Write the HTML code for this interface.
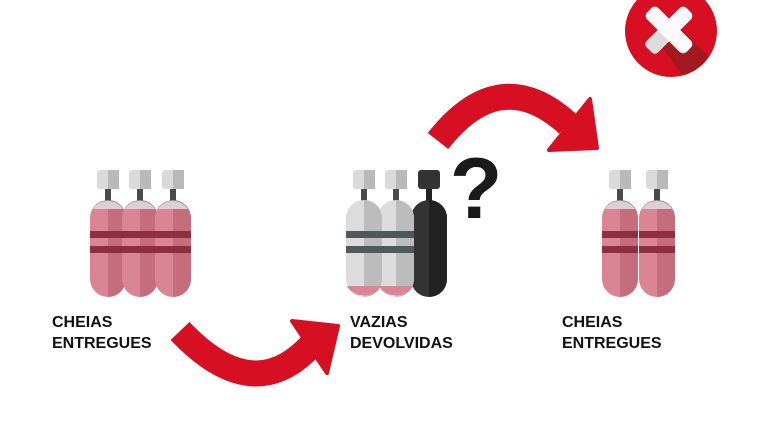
<!DOCTYPE html>
<html><head><meta charset="utf-8"><style>
html,body{margin:0;padding:0;background:#fff;}
.t{font-family:"Liberation Sans",sans-serif;font-weight:bold;font-size:16px;fill:#111;}
</style></head><body>
<svg width="768" height="432" viewBox="0 0 768 432" xmlns="http://www.w3.org/2000/svg">
<defs>
<clipPath id="cc"><circle cx="671" cy="31" r="46"/></clipPath>
<g id="pink">
  <rect x="-11" y="0" width="22" height="19" rx="3" fill="#dadada"/>
  <rect x="0" y="0" width="11" height="19" fill="#b9b9b9"/>
  <rect x="-3" y="19" width="6" height="12" fill="#4a4a4a"/>
  <rect x="-18" y="30" width="36" height="97" rx="18" fill="#d98593"/>
  <path d="M0,30 A18,18 0 0 1 18,48 V109 A18,18 0 0 1 0,127 Z" fill="#c56d7c"/>
  <path d="M-15,39 A18,18 0 0 1 15,39 Z" fill="#d4d4d4"/>
  <rect x="-18" y="61" width="36" height="7" fill="#8e2f40"/>
  <rect x="-18" y="76" width="36" height="7" fill="#8e2f40"/>
</g>
<g id="grey">
  <rect x="-11" y="0" width="22" height="19" rx="3" fill="#dadada"/>
  <rect x="0" y="0" width="11" height="19" fill="#b9b9b9"/>
  <rect x="-3" y="19" width="6" height="12" fill="#4a4a4a"/>
  <rect x="-18" y="30" width="36" height="97" rx="18" fill="#dcdcdc"/>
  <path d="M0,30 A18,18 0 0 1 18,48 V109 A18,18 0 0 1 0,127 Z" fill="#bcbcbc"/>
  <path d="M-17,116 H17 A18,14 0 0 1 -17,116 Z" fill="#d98593"/>
  <rect x="-18" y="61" width="36" height="7" fill="#505858"/>
  <rect x="-18" y="76" width="36" height="7" fill="#505858"/>
</g>
<g id="black">
  <rect x="-11" y="0" width="22" height="19" rx="3" fill="#333"/>
  <rect x="-3" y="19" width="6" height="12" fill="#222"/>
  <rect x="-18" y="30" width="36" height="97" rx="18" fill="#333"/>
  <path d="M0,30 A18,18 0 0 1 18,48 V109 A18,18 0 0 1 0,127 Z" fill="#222"/>
</g>
</defs>
<use href="#pink" x="108" y="170"/>
<use href="#pink" x="140" y="170"/>
<use href="#pink" x="173" y="170"/>
<use href="#black" x="429" y="170"/>
<use href="#grey" x="396" y="170"/>
<use href="#grey" x="364" y="170"/>
<use href="#pink" x="657" y="170"/>
<use href="#pink" x="620" y="170"/>

<path d="M438,141 Q500,62 568,124" fill="none" stroke="#d60f22" stroke-width="26"/>
<polygon points="590,99 597,148 549,150" fill="#d60f22" stroke="#d60f22" stroke-width="4" stroke-linejoin="round"/>
<path d="M180,331 Q255,410 314,342" fill="none" stroke="#d60f22" stroke-width="26"/>
<polygon points="292,321 338,326 327,373" fill="#d60f22" stroke="#d60f22" stroke-width="4" stroke-linejoin="round"/>

<text x="476" y="218" text-anchor="middle" font-family="Liberation Sans,sans-serif" font-weight="bold" font-size="86" fill="#1a1a1a">?</text>

<circle cx="671" cy="31" r="46" fill="#d60f22"/>
<path d="M676,24 L730,78 L700,100 L660,44 Z" fill="#9b1a1f" opacity="0.85" clip-path="url(#cc)"/>
<g transform="translate(669,30) rotate(45)">
  <rect x="-28" y="-8" width="56" height="16" rx="5" fill="#fafafa"/>
  <rect x="-8" y="-28" width="16" height="56" rx="5" fill="#fafafa"/>
  <rect x="-8" y="8" width="16" height="20" rx="4" fill="#dcdcdc"/>
</g>

<text class="t" x="52" y="327">CHEIAS</text>
<text class="t" x="52" y="348">ENTREGUES</text>
<text class="t" x="350" y="327">VAZIAS</text>
<text class="t" x="350" y="348">DEVOLVIDAS</text>
<text class="t" x="562" y="327">CHEIAS</text>
<text class="t" x="562" y="348">ENTREGUES</text>
</svg>
</body></html>
